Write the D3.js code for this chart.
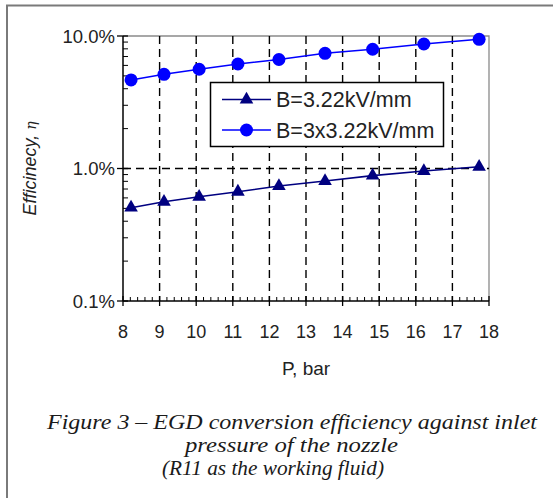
<!DOCTYPE html>
<html>
<head>
<meta charset="utf-8">
<script src="https://cdn.jsdelivr.net/npm/d3@7"></script>
<style>
  html, body { margin: 0; padding: 0; background: #fff; }
  svg { display: block; }
</style>
</head>
<body>
<svg id="chart" width="553" height="498"></svg>
<script>
// inlet pressure (bar) and efficiency (%)
const pressure = [8.22, 9.12, 10.08, 11.14, 12.26, 13.52, 14.82, 16.22, 17.73];
const effLow = [0.506, 0.561, 0.612, 0.668, 0.738, 0.805, 0.883, 0.957, 1.03];
const effHigh = [4.66, 5.14, 5.61, 6.15, 6.65, 7.40, 7.94, 8.70, 9.44];
const seriesNames = ['B=3.22kV/mm', 'B=3x3.22kV/mm'];
const xTicks = [8, 9, 10, 11, 12, 13, 14, 15, 16, 17, 18];
const yTicks = [0.1, 1, 10];
const captionLines = [
  'Figure 3 \u2013 EGD conversion efficiency against inlet',
  'pressure of the nozzle',
  '(R11 as the working fluid)'
];

const svg = d3.select('#chart');
const font = 'Liberation Sans, Arial, sans-serif';

// outer frame (left and top only)
svg.append('path')
  .attr('d', 'M7,498 V5.5 H553')
  .attr('fill', 'none')
  .attr('stroke', '#7a7a7a')
  .attr('stroke-width', 2);

const plot = { left: 123, right: 489, top: 36, bottom: 301 };
const x = d3.scaleLinear().domain([8, 18]).range([plot.left, plot.right]);
const y = d3.scaleLog().domain([0.1, 10]).range([plot.bottom, plot.top]);

const g = svg.append('g');

// plot frame top/right
g.append('path')
  .attr('d', `M${plot.left},${plot.top} H${plot.right} V${plot.bottom}`)
  .attr('fill', 'none')
  .attr('stroke', '#8a8a8a')
  .attr('stroke-width', 1.3);

// dashed grid
const dash = '8,5';
g.append('g').selectAll('line')
  .data(xTicks.filter(d => d > 8 && d < 18))
  .join('line')
    .attr('x1', d => x(d)).attr('x2', d => x(d))
    .attr('y1', plot.top).attr('y2', plot.bottom)
    .attr('stroke', '#000').attr('stroke-width', 1.4)
    .attr('stroke-dasharray', dash);
g.append('line')
  .attr('x1', plot.left).attr('x2', plot.right)
  .attr('y1', y(1)).attr('y2', y(1))
  .attr('stroke', '#000').attr('stroke-width', 1.4)
  .attr('stroke-dasharray', dash);

// axes lines
g.append('line')
  .attr('x1', plot.left).attr('x2', plot.left)
  .attr('y1', plot.top).attr('y2', plot.bottom)
  .attr('stroke', '#000').attr('stroke-width', 1.5);
g.append('line')
  .attr('x1', plot.left).attr('x2', plot.right)
  .attr('y1', plot.bottom).attr('y2', plot.bottom)
  .attr('stroke', '#000').attr('stroke-width', 1.5);

// x ticks: major cross, minor inside
const xMinor = d3.range(8, 18.001, 0.2).filter(v => Math.abs(v - Math.round(v)) > 1e-6);
g.append('g').selectAll('line')
  .data(xMinor)
  .join('line')
    .attr('x1', d => x(d)).attr('x2', d => x(d))
    .attr('y1', plot.bottom).attr('y2', plot.bottom - 4)
    .attr('stroke', '#000').attr('stroke-width', 1);
g.append('g').selectAll('line')
  .data(xTicks)
  .join('line')
    .attr('x1', d => x(d)).attr('x2', d => x(d))
    .attr('y1', plot.bottom - 5).attr('y2', plot.bottom + 5)
    .attr('stroke', '#000').attr('stroke-width', 1.3);
g.append('g').selectAll('text')
  .data(xTicks)
  .join('text')
    .attr('x', d => x(d))
    .attr('y', plot.bottom + 37)
    .attr('text-anchor', 'middle')
    .attr('font-family', font)
    .attr('font-size', 18)
    .attr('fill', '#222')
    .text(d => d);

// y ticks: log minor inside, major cross
const yMinor = [];
[0.1, 1].forEach(dec => d3.range(2, 10).forEach(k => yMinor.push(dec * k)));
g.append('g').selectAll('line')
  .data(yMinor)
  .join('line')
    .attr('x1', plot.left).attr('x2', plot.left + 5)
    .attr('y1', d => y(d)).attr('y2', d => y(d))
    .attr('stroke', '#000').attr('stroke-width', 1);
g.append('g').selectAll('line')
  .data(yTicks)
  .join('line')
    .attr('x1', plot.left - 6).attr('x2', plot.left + 5)
    .attr('y1', d => y(d)).attr('y2', d => y(d))
    .attr('stroke', '#000').attr('stroke-width', 1.3);
g.append('g').selectAll('text')
  .data(yTicks)
  .join('text')
    .attr('x', plot.left - 8)
    .attr('y', d => y(d))
    .attr('dy', '0.36em')
    .attr('text-anchor', 'end')
    .attr('font-family', font)
    .attr('font-size', 18.5)
    .attr('fill', '#222')
    .text(d => d3.format('.1f')(d) + '%');

// axis titles
svg.append('text')
  .attr('x', (plot.left + plot.right) / 2)
  .attr('y', 375)
  .attr('text-anchor', 'middle')
  .attr('font-family', font)
  .attr('font-size', 19)
  .attr('fill', '#222')
  .text('P, bar');

const yTitle = svg.append('text')
  .attr('transform', `translate(36,${(plot.top + plot.bottom) / 2}) rotate(-90)`)
  .attr('text-anchor', 'middle')
  .attr('font-family', font)
  .attr('font-size', 18)
  .attr('font-style', 'italic')
  .attr('fill', '#222');
yTitle.append('tspan').text('Efficinecy, ');
yTitle.append('tspan')
  .attr('font-family', 'DejaVu Serif, serif')
  .attr('font-size', 14)
  .text('\u03b7');

// series
const series = [
  { name: seriesNames[0], values: effLow, color: '#000080', shape: 'tri' },
  { name: seriesNames[1], values: effHigh, color: '#0000ff', shape: 'circle' }
];
const line = d3.line().x(d => x(d[0])).y(d => y(d[1]));
const triangle = d3.symbol().type(d3.symbolTriangle).size(80);

function drawMarker(sel, s, cx, cy) {
  if (s.shape === 'circle') {
    sel.append('circle').attr('cx', cx).attr('cy', cy).attr('r', 6.5).attr('fill', s.color);
  } else {
    sel.append('path').attr('d', triangle())
      .attr('transform', `translate(${cx},${cy})`)
      .attr('fill', s.color);
  }
}

series.forEach(s => {
  const pts = pressure.map((p, i) => [p, s.values[i]]);
  g.append('path')
    .datum(pts)
    .attr('d', line)
    .attr('fill', 'none')
    .attr('stroke', s.color)
    .attr('stroke-width', 1.6);
  const mg = g.append('g');
  pts.forEach(d => drawMarker(mg, s, x(d[0]), y(d[1])));
});

// legend
const lg = svg.append('g');
lg.append('rect')
  .attr('x', 210.5).attr('y', 82.5)
  .attr('width', 233).attr('height', 64)
  .attr('fill', '#fff')
  .attr('stroke', '#000')
  .attr('stroke-width', 1.5);
series.forEach((s, i) => {
  const cy = 99.5 + i * 30.5;
  lg.append('line')
    .attr('x1', 222).attr('x2', 271)
    .attr('y1', cy).attr('y2', cy)
    .attr('stroke', s.color).attr('stroke-width', 1.6);
  drawMarker(lg, s, 246.5, cy);
  lg.append('text')
    .attr('x', 276)
    .attr('y', cy)
    .attr('dy', '0.36em')
    .attr('font-family', font)
    .attr('font-size', 21.5)
    .attr('fill', '#222')
    .text(s.name);
});

// caption
const capX = [47, 185, 162];
const capW = [490, 213, 222];
const capY = [429, 452, 475];
svg.append('g').selectAll('text')
  .data(captionLines)
  .join('text')
    .attr('x', (d, i) => capX[i])
    .attr('y', (d, i) => capY[i])
    .attr('textLength', (d, i) => capW[i])
    .attr('lengthAdjust', 'spacingAndGlyphs')
    .attr('font-family', 'Liberation Serif, Times New Roman, serif')
    .attr('font-style', 'italic')
    .attr('font-size', 20)
    .attr('fill', '#1a1a1a')
    .text(d => d);
</script>
</body>
</html>
